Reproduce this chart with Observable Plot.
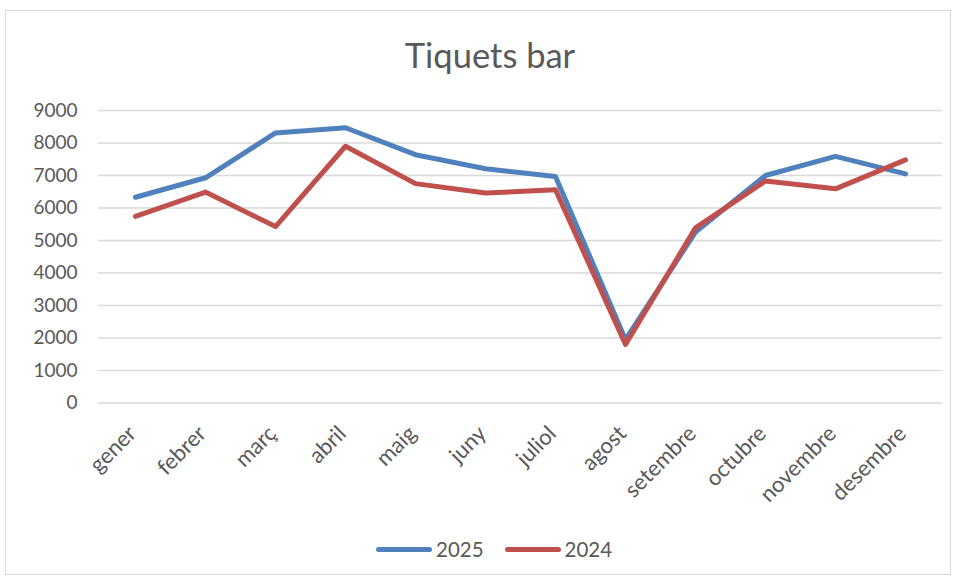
<!DOCTYPE html>
<html>
<head>
<meta charset="utf-8">
<script src="https://cdn.jsdelivr.net/npm/d3@7"></script>
<script src="https://cdn.jsdelivr.net/npm/@observablehq/plot@0.6"></script>
<style>
  html, body { margin: 0; padding: 0; background: #fff; }
  #wrap { position: relative; width: 957px; height: 580px; font-family: Lato, "Open Sans", sans-serif; color: #595959; }
  #frame { position: absolute; left: 5px; top: 10px; width: 946px; height: 565px; border: 1px solid #d9d9d9; box-sizing: border-box; }
  #title { position: absolute; left: 0; width: 980px; top: 33px; text-align: center; font-size: 34.5px; line-height: 44px; }
  #chart { position: absolute; left: 0; top: 0; }
  #legend { position: absolute; top: 536px; left: 376px; display: flex; align-items: center; font-size: 20.5px; height: 26px; }
  .sw { display: inline-block; width: 56px; height: 5px; border-radius: 3px; margin-right: 4px; }
  .item { display: flex; align-items: center; margin-right: 21px; }
</style>
</head>
<body>
<div id="wrap">
  <div id="frame"></div>
  <div id="chart"></div>
  <div id="title">Tiquets bar</div>
  <div id="legend"></div>
</div>
<script>
const months = ["gener","febrer","març","abril","maig","juny","juliol","agost","setembre","octubre","novembre","desembre"];
const series = ["2025", "2024"];
const values2025 = [6330, 6930, 8310, 8470, 7640, 7210, 6970, 1950, 5260, 7000, 7590, 7050];
const values2024 = [5740, 6490, 5430, 7900, 6750, 6460, 6560, 1800, 5390, 6830, 6590, 7480];
const yTicks = [0,1000,2000,3000,4000,5000,6000,7000,8000,9000];
const colors = ["#4f81bd", "#c0504d"];

const data = [];
months.forEach((m, i) => {
  data.push({month: m, year: "2025", value: values2025[i]});
  data.push({month: m, year: "2024", value: values2024[i]});
});

const chart = Plot.plot({
  width: 957,
  height: 580,
  marginTop: 110,
  marginBottom: 177.5,
  marginLeft: 98,
  marginRight: 15,
  style: { fontFamily: "Lato, 'Open Sans', sans-serif", fontSize: "19px", color: "#595959", background: "transparent" },
  x: { type: "point", domain: months, padding: 0.5, label: null },
  y: { domain: [0, 9000], label: null },
  color: { domain: series, range: colors },
  marks: [
    Plot.gridY(yTicks, { stroke: "#d9d9d9", strokeOpacity: 1, strokeWidth: 1.5 }),
    Plot.axisY(yTicks, { tickSize: 0, tickPadding: 21, label: null, fill: "#595959", tickFormat: d => String(d) }),
    Plot.axisX(months, { tickSize: 0, tickRotate: -45, tickPadding: 27, label: null, fill: "#595959", fontSize: 22, dx: -3 }),
    Plot.line(data, { x: "month", y: "value", z: "year", stroke: "year", strokeWidth: 5, strokeLinecap: "round", strokeLinejoin: "round" })
  ]
});
document.getElementById("chart").appendChild(chart);

const legend = document.getElementById("legend");
series.forEach((s, i) => {
  const item = document.createElement("div");
  item.className = "item";
  const sw = document.createElement("span");
  sw.className = "sw";
  sw.style.background = colors[i];
  const t = document.createElement("span");
  t.textContent = s;
  item.appendChild(sw);
  item.appendChild(t);
  legend.appendChild(item);
});
</script>
</body>
</html>
